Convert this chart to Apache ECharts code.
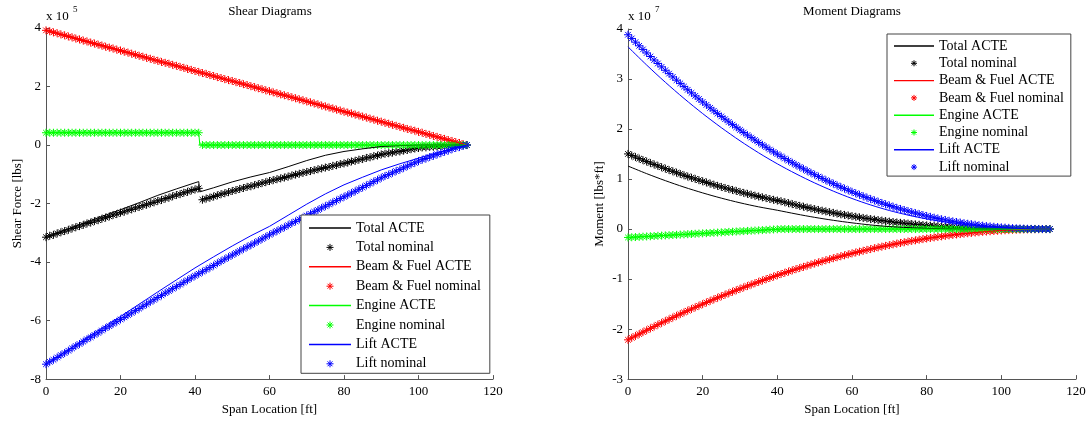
<!DOCTYPE html>
<html>
<head>
<meta charset="utf-8">
<script src="https://cdn.jsdelivr.net/npm/echarts/dist/echarts.min.js"></script>
<style>
html,body{margin:0;padding:0;background:#fff;}
#chart{width:1089px;height:421px;}
</style>
</head>
<body>
<div id="chart"></div>
<script>
// ---------- DATA ----------
const seriesNames = ['Total ACTE','Total nominal','Beam & Fuel ACTE','Beam & Fuel nominal','Engine ACTE','Engine nominal','Lift ACTE','Lift nominal'];
const xTicks = [0,20,40,60,80,100,120];

// sample stations of the nominal (marker) series, ft
const spanFt = [
0,1,2,3,4,5,6,7,8,9,
10,11,12,13,14,15,16,17,18,19,
20,21,22,23,24,25,26,27,28,29,
30,31,32,33,34,35,36,37,38,39,
40,41,42,43,44,45,46,47,48,49,
50,51,52,53,54,55,56,57,58,59,
60,61,62,63,64,65,66,67,68,69,
70,71,72,73,74,75,76,77,78,79,
80,81,82,83,84,85,86,87,88,89,
90,91,92,93,94,95,96,97,98,99,
100,101,102,103,104,105,106,107,108,109,
110,111,112,113];

// ---- Shear, x 10^5 lbs ----
const shearBeamNom = [
3.92,3.89,3.85,3.82,3.78,3.75,3.71,3.68,3.64,3.61,
3.57,3.54,3.50,3.47,3.43,3.40,3.36,3.33,3.30,3.26,
3.23,3.19,3.16,3.12,3.09,3.05,3.02,2.98,2.95,2.91,
2.88,2.84,2.81,2.78,2.74,2.71,2.67,2.64,2.60,2.57,
2.53,2.50,2.46,2.43,2.39,2.36,2.32,2.29,2.25,2.22,
2.19,2.15,2.12,2.08,2.05,2.01,1.98,1.94,1.91,1.87,
1.84,1.80,1.77,1.73,1.70,1.67,1.63,1.60,1.56,1.53,
1.49,1.46,1.42,1.39,1.35,1.32,1.28,1.25,1.21,1.18,
1.14,1.11,1.08,1.04,1.01,0.97,0.94,0.90,0.87,0.83,
0.80,0.76,0.73,0.69,0.66,0.62,0.59,0.55,0.52,0.49,
0.45,0.42,0.38,0.35,0.31,0.28,0.24,0.21,0.17,0.14,
0.10,0.07,0.03,0.00];
const shearEngineNom = [
0.42,0.42,0.42,0.42,0.42,0.42,0.42,0.42,0.42,0.42,
0.42,0.42,0.42,0.42,0.42,0.42,0.42,0.42,0.42,0.42,
0.42,0.42,0.42,0.42,0.42,0.42,0.42,0.42,0.42,0.42,
0.42,0.42,0.42,0.42,0.42,0.42,0.42,0.42,0.42,0.42,
0.42,0.42,0,0,0,0,0,0,0,0,
0,0,0,0,0,0,0,0,0,0,
0,0,0,0,0,0,0,0,0,0,
0,0,0,0,0,0,0,0,0,0,
0,0,0,0,0,0,0,0,0,0,
0,0,0,0,0,0,0,0,0,0,
0,0,0,0,0,0,0,0,0,0,
0,0,0,0];
const shearLiftNom = [
-7.49,-7.41,-7.34,-7.26,-7.18,-7.11,-7.03,-6.95,-6.87,-6.80,
-6.72,-6.64,-6.57,-6.49,-6.42,-6.34,-6.26,-6.19,-6.11,-6.04,
-5.96,-5.89,-5.81,-5.74,-5.66,-5.59,-5.51,-5.44,-5.36,-5.29,
-5.21,-5.14,-5.06,-4.99,-4.91,-4.84,-4.77,-4.69,-4.62,-4.54,
-4.47,-4.40,-4.33,-4.26,-4.19,-4.12,-4.04,-3.97,-3.90,-3.83,
-3.76,-3.69,-3.62,-3.55,-3.48,-3.42,-3.35,-3.28,-3.21,-3.14,
-3.07,-3.00,-2.94,-2.87,-2.81,-2.74,-2.67,-2.61,-2.54,-2.48,
-2.41,-2.35,-2.28,-2.22,-2.15,-2.09,-2.03,-1.96,-1.90,-1.83,
-1.77,-1.71,-1.64,-1.58,-1.51,-1.45,-1.38,-1.32,-1.25,-1.19,
-1.12,-1.06,-1.01,-0.95,-0.89,-0.84,-0.78,-0.72,-0.66,-0.61,
-0.55,-0.50,-0.46,-0.41,-0.37,-0.32,-0.28,-0.23,-0.19,-0.14,
-0.10,-0.07,-0.03,0.00];
const shearTotalNom = [
-3.15,-3.10,-3.07,-3.02,-2.98,-2.94,-2.90,-2.85,-2.81,-2.77,
-2.73,-2.68,-2.65,-2.60,-2.57,-2.52,-2.48,-2.44,-2.39,-2.36,
-2.31,-2.28,-2.23,-2.20,-2.15,-2.12,-2.07,-2.04,-1.99,-1.96,
-1.91,-1.88,-1.83,-1.80,-1.75,-1.71,-1.68,-1.63,-1.60,-1.55,
-1.52,-1.48,-1.87,-1.83,-1.80,-1.76,-1.72,-1.68,-1.65,-1.61,
-1.57,-1.54,-1.50,-1.47,-1.43,-1.41,-1.37,-1.34,-1.30,-1.27,
-1.23,-1.20,-1.17,-1.14,-1.11,-1.08,-1.04,-1.01,-0.98,-0.95,
-0.92,-0.89,-0.86,-0.83,-0.80,-0.77,-0.75,-0.71,-0.69,-0.65,
-0.63,-0.60,-0.56,-0.54,-0.50,-0.48,-0.44,-0.42,-0.38,-0.36,
-0.32,-0.30,-0.28,-0.26,-0.23,-0.22,-0.19,-0.17,-0.14,-0.12,
-0.10,-0.08,-0.08,-0.06,-0.06,-0.04,-0.04,-0.02,-0.02,0.00,
0.00,0.00,0.00,0.00];

// ACTE (solid line) shear curves
const acteX = [0,5,10,15,20,25,30,35,40,45,50,55,60,65,70,75,80,85,90,95,100,105,110,113];
const shearLiftActe = [-7.50,-7.08,-6.66,-6.26,-5.86,-5.44,-5.02,-4.61,-4.20,-3.82,-3.45,-3.10,-2.78,-2.40,-2.02,-1.67,-1.36,-1.10,-0.85,-0.64,-0.45,-0.26,-0.10,0];
const shearTotalActeX = [0,5,10,15,20,25,30,35,40,41,41.3,45,50,55,60,65,70,75,80,85,90,95,100,105,110,113];
const shearTotalActe = [-3.16,-2.91,-2.67,-2.44,-2.21,-1.97,-1.72,-1.50,-1.29,-1.25,-1.60,-1.46,-1.26,-1.09,-0.94,-0.74,-0.53,-0.35,-0.22,-0.13,-0.05,-0.02,0,0,0,0];
const shearBeamActeX = [0,113];
const shearBeamActe = [3.92,0];
const shearEngineActeX = [0,41,41.3,113];
const shearEngineActe = [0.42,0.42,0,0];

// ---- Moment, x 10^7 lbs*ft ----
const momentBeamNom = [
-2.215,-2.176,-2.137,-2.099,-2.061,-2.023,-1.986,-1.949,-1.912,-1.876,
-1.840,-1.805,-1.769,-1.735,-1.700,-1.666,-1.632,-1.599,-1.565,-1.533,
-1.500,-1.468,-1.436,-1.405,-1.374,-1.343,-1.313,-1.283,-1.253,-1.224,
-1.195,-1.166,-1.138,-1.110,-1.083,-1.055,-1.028,-1.002,-0.976,-0.950,
-0.924,-0.899,-0.874,-0.850,-0.826,-0.802,-0.779,-0.756,-0.733,-0.710,
-0.688,-0.667,-0.645,-0.624,-0.604,-0.583,-0.564,-0.544,-0.525,-0.506,
-0.487,-0.469,-0.451,-0.434,-0.416,-0.400,-0.383,-0.367,-0.351,-0.336,
-0.321,-0.306,-0.292,-0.278,-0.264,-0.250,-0.237,-0.225,-0.212,-0.201,
-0.189,-0.178,-0.167,-0.156,-0.146,-0.136,-0.126,-0.117,-0.108,-0.100,
-0.092,-0.084,-0.076,-0.069,-0.063,-0.056,-0.050,-0.044,-0.039,-0.034,
-0.029,-0.025,-0.021,-0.017,-0.014,-0.011,-0.008,-0.006,-0.004,-0.003,
-0.002,-0.001,0,0];
const momentEngineNom = [
-0.168,-0.164,-0.160,-0.156,-0.152,-0.148,-0.144,-0.139,-0.135,-0.131,
-0.127,-0.123,-0.119,-0.115,-0.111,-0.107,-0.103,-0.098,-0.094,-0.090,
-0.086,-0.082,-0.078,-0.074,-0.070,-0.066,-0.062,-0.057,-0.053,-0.049,
-0.045,-0.041,-0.037,-0.033,-0.029,-0.025,-0.021,-0.016,-0.012,-0.008,
-0.004,0,0,0,0,0,0,0,0,0,
0,0,0,0,0,0,0,0,0,0,
0,0,0,0,0,0,0,0,0,0,
0,0,0,0,0,0,0,0,0,0,
0,0,0,0,0,0,0,0,0,0,
0,0,0,0,0,0,0,0,0,0,
0,0,0,0,0,0,0,0,0,0,
0,0,0,0];
const momentLiftNom = [
3.885,3.811,3.737,3.664,3.592,3.521,3.450,3.380,3.311,3.243,
3.175,3.108,3.042,2.977,2.912,2.848,2.785,2.723,2.662,2.601,
2.541,2.482,2.423,2.365,2.308,2.252,2.197,2.142,2.088,2.035,
1.982,1.930,1.879,1.829,1.780,1.731,1.683,1.636,1.589,1.543,
1.498,1.454,1.410,1.367,1.325,1.283,1.243,1.203,1.163,1.125,
1.087,1.049,1.013,0.977,0.942,0.907,0.873,0.840,0.808,0.776,
0.745,0.715,0.685,0.656,0.628,0.600,0.573,0.546,0.521,0.496,
0.471,0.447,0.424,0.402,0.380,0.359,0.338,0.318,0.299,0.280,
0.262,0.245,0.228,0.212,0.196,0.182,0.167,0.154,0.141,0.129,
0.117,0.106,0.096,0.086,0.077,0.068,0.060,0.053,0.046,0.040,
0.034,0.029,0.024,0.019,0.015,0.012,0.009,0.006,0.004,0.003,
0.002,0.001,0,0];
const momentTotalNom = [
1.502,1.471,1.440,1.409,1.379,1.350,1.320,1.292,1.264,1.236,
1.208,1.180,1.154,1.127,1.101,1.075,1.050,1.026,1.003,0.978,
0.955,0.932,0.909,0.886,0.864,0.843,0.822,0.802,0.782,0.762,
0.742,0.723,0.704,0.686,0.668,0.651,0.634,0.618,0.601,0.585,
0.570,0.555,0.536,0.517,0.499,0.481,0.464,0.447,0.430,0.415,
0.399,0.382,0.368,0.353,0.338,0.324,0.309,0.296,0.283,0.270,
0.258,0.246,0.234,0.222,0.212,0.200,0.190,0.179,0.170,0.160,
0.150,0.141,0.132,0.124,0.116,0.109,0.101,0.093,0.087,0.079,
0.073,0.067,0.061,0.056,0.050,0.046,0.041,0.037,0.033,0.029,
0.025,0.022,0.020,0.017,0.014,0.012,0.010,0.009,0.007,0.006,
0.005,0.004,0.003,0.002,0.001,0.001,0.001,0,0,0,
0,0,0,0];

// ACTE (solid line) moment curves, sampled at acteX
const momentLiftActe = [3.643,3.279,2.935,2.612,2.309,2.027,1.765,1.524,1.304,1.104,0.922,0.758,0.611,0.482,0.371,0.279,0.203,0.142,0.093,0.056,0.028,0.011,0.002,0];
const momentTotalActe = [1.260,1.108,0.968,0.839,0.723,0.618,0.525,0.444,0.376,0.302,0.234,0.175,0.124,0.082,0.050,0.029,0.014,0.006,0.001,0,0,0,0,0];
const momentBeamActe = [-2.215,-2.023,-1.840,-1.666,-1.500,-1.343,-1.195,-1.055,-0.924,-0.802,-0.688,-0.583,-0.487,-0.400,-0.321,-0.250,-0.189,-0.136,-0.092,-0.056,-0.029,-0.011,-0.002,0];
const momentEngineActeX = [0,41,113];
const momentEngineActe = [-0.168,0,0];

// ---------- CHART ----------
const FONT = '"Liberation Serif","Times New Roman",serif';
const COLORS = {Total:'#000000', Beam:'#ff0000', Engine:'#00ff00', Lift:'#0000ff'};
const legendColors = ['#000000','#000000','#ff0000','#ff0000','#00ff00','#00ff00','#0000ff','#0000ff'];
const STAR = 'path://M5,0L5,10M0,5L10,5M1.5,1.5L8.5,8.5M8.5,1.5L1.5,8.5';
const STAR_LEGEND = 'path://M-5,-5M15,15M5,0L5,10M0,5L10,5M1.5,1.5L8.5,8.5M8.5,1.5L1.5,8.5';
const LINE_LEGEND = 'path://M0,0L42,0L42,1.5L0,1.5Z';

function pairs(xs, ys){ return xs.map((x,i)=>[x, ys[i]]); }
function acte(name, xs, ys, color, g, smooth){
  return {type:'line', name, xAxisIndex:g, yAxisIndex:g, data:pairs(xs,ys),
    symbol:'none', showSymbol:false, smooth: smooth||false, silent:true,
    lineStyle:{color, width:1}, itemStyle:{color, borderWidth:0}};
}
function nominal(name, ys, color, g){
  return {type:'scatter', name, xAxisIndex:g, yAxisIndex:g, data:pairs(spanFt, ys),
    symbol:STAR, symbolSize:8, silent:true,
    itemStyle:{color, borderColor:color, borderWidth:1, opacity:1}};
}

const axisCommon = {
  axisLine:{show:true, onZero:false, lineStyle:{color:'#555', width:1}},
  axisTick:{show:true, inside:true, length:4, lineStyle:{color:'#555'}},
  splitLine:{show:false},
  axisLabel:{fontFamily:FONT, fontSize:13, color:'#000'},
  nameTextStyle:{fontFamily:FONT, fontSize:13, color:'#000'},
  nameLocation:'middle'
};

function legendFor(left, top, itemWidth, itemHeight, gap, padding){
  return {
    orient:'vertical', left, top, itemWidth, itemHeight, itemGap:gap, padding,
    selectedMode:false, backgroundColor:'#fff', borderColor:'#444', borderWidth:1,
    borderRadius:0, itemStyle:{borderWidth:1}, symbolKeepAspect:true,
    textStyle:{fontFamily:FONT, fontSize:14, color:'#000'},
    data: seriesNames.map((n,i) => n.indexOf('nominal')>=0
      ? {name:n, icon:STAR_LEGEND, itemStyle:{color:legendColors[i], borderColor:legendColors[i], borderWidth:1}}
      : {name:n, icon:LINE_LEGEND, itemStyle:{color:legendColors[i], borderWidth:0}})
  };
}

const option = {
  animation:false,
  backgroundColor:'#fff',
  grid:[
    {left:46, right:596, top:28, bottom:41},
    {left:628, right:13, top:29, bottom:41}
  ],
  xAxis:[
    Object.assign({}, axisCommon, {type:'value', gridIndex:0, min:0, max:120, interval:20, name:'Span Location [ft]', nameGap:22,
      axisLabel:Object.assign({}, axisCommon.axisLabel, {margin:6})}),
    Object.assign({}, axisCommon, {type:'value', gridIndex:1, min:0, max:120, interval:20, name:'Span Location [ft]', nameGap:22,
      axisLabel:Object.assign({}, axisCommon.axisLabel, {margin:6})})
  ],
  yAxis:[
    Object.assign({}, axisCommon, {type:'value', gridIndex:0, min:-8, max:4, interval:2, name:'Shear Force [lbs]', nameGap:22,
      axisLabel:Object.assign({}, axisCommon.axisLabel, {margin:5})}),
    Object.assign({}, axisCommon, {type:'value', gridIndex:1, min:-3, max:4, interval:1, name:'Moment [lbs*ft]', nameGap:22,
      axisLabel:Object.assign({}, axisCommon.axisLabel, {margin:5})})
  ],
  legend:[
    legendFor(301, 215, 42, 14, 4.9, [6,9,2,8]),
    legendFor(887, 34, 40, 12, 3.3, [5,7,2,7])
  ],
  graphic:[
    {type:'text', x:270, y:12, style:{text:'Shear Diagrams', fill:'#000', fontFamily:FONT, fontSize:13, align:'center', verticalAlign:'middle'}},
    {type:'text', x:852, y:12, style:{text:'Moment Diagrams', fill:'#000', fontFamily:FONT, fontSize:13, align:'center', verticalAlign:'middle'}},
    {type:'text', x:46, y:17, style:{text:'x 10', fill:'#000', fontFamily:FONT, fontSize:13, align:'left', verticalAlign:'middle'}},
    {type:'text', x:73, y:10, style:{text:'5', fill:'#000', fontFamily:FONT, fontSize:9, align:'left', verticalAlign:'middle'}},
    {type:'text', x:628, y:17, style:{text:'x 10', fill:'#000', fontFamily:FONT, fontSize:13, align:'left', verticalAlign:'middle'}},
    {type:'text', x:655, y:10, style:{text:'7', fill:'#000', fontFamily:FONT, fontSize:9, align:'left', verticalAlign:'middle'}}
  ],
  series:[
    acte('Total ACTE', shearTotalActeX, shearTotalActe, COLORS.Total, 0),
    nominal('Total nominal', shearTotalNom, COLORS.Total, 0),
    acte('Beam & Fuel ACTE', shearBeamActeX, shearBeamActe, COLORS.Beam, 0),
    nominal('Beam & Fuel nominal', shearBeamNom, COLORS.Beam, 0),
    acte('Engine ACTE', shearEngineActeX, shearEngineActe, COLORS.Engine, 0),
    nominal('Engine nominal', shearEngineNom, COLORS.Engine, 0),
    acte('Lift ACTE', acteX, shearLiftActe, COLORS.Lift, 0),
    nominal('Lift nominal', shearLiftNom, COLORS.Lift, 0),

    acte('Total ACTE', acteX, momentTotalActe, COLORS.Total, 1, 0.3),
    nominal('Total nominal', momentTotalNom, COLORS.Total, 1),
    acte('Beam & Fuel ACTE', acteX, momentBeamActe, COLORS.Beam, 1, 0.3),
    nominal('Beam & Fuel nominal', momentBeamNom, COLORS.Beam, 1),
    acte('Engine ACTE', momentEngineActeX, momentEngineActe, COLORS.Engine, 1),
    nominal('Engine nominal', momentEngineNom, COLORS.Engine, 1),
    acte('Lift ACTE', acteX, momentLiftActe, COLORS.Lift, 1, 0.3),
    nominal('Lift nominal', momentLiftNom, COLORS.Lift, 1)
  ]
};

const chart = echarts.init(document.getElementById('chart'), null, {renderer:'canvas'});
chart.setOption(option);
</script>
</body>
</html>
